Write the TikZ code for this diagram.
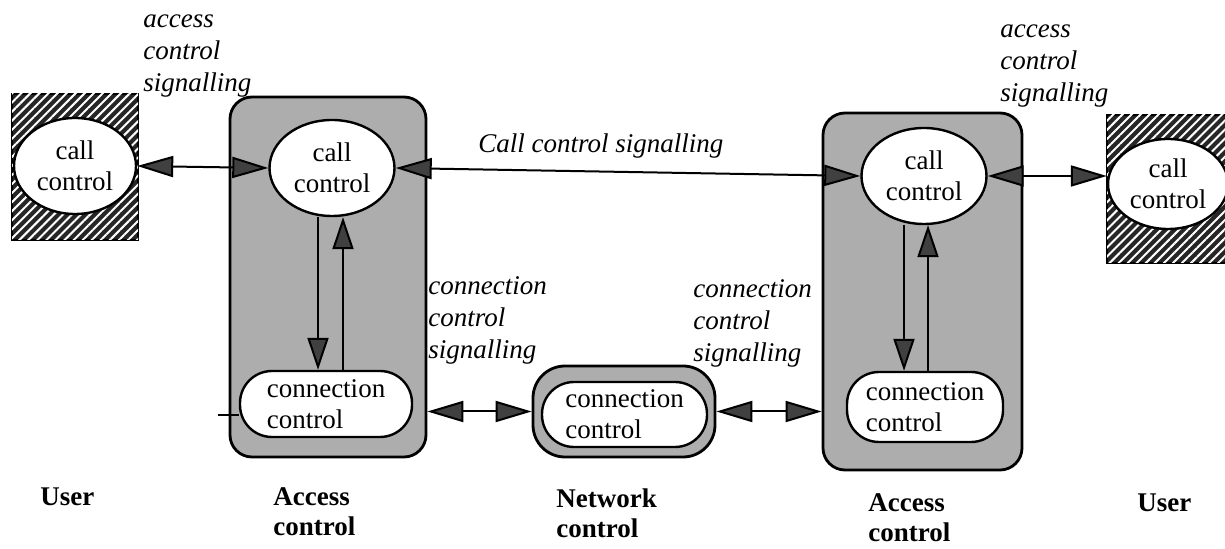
\documentclass[tikz,border=0pt]{standalone}
\usepackage{fontspec}
\setmainfont{Liberation Serif}
\usetikzlibrary{arrows.meta,patterns.meta,shapes.geometric}
\begin{document}
\begin{tikzpicture}[x=0.5pt,y=-0.5pt,
  txt/.style={font=\fontsize{13.5}{15.5}\selectfont},
  lbl/.style={font=\fontsize{13.5}{16}\selectfont\itshape, align=left, anchor=base west, inner sep=0pt},
  caption/.style={font=\fontsize{13.5}{15}\selectfont\bfseries, align=left, anchor=base west, inner sep=0pt},
  accbox/.style={draw, line width=1.4pt, fill=black!32, rounded corners=11pt, inner sep=0pt},
  userbox/.style={draw, line width=1.2pt, fill=black!85,
    postaction={pattern={Lines[angle=45,distance=3.2pt,line width=1pt]}, pattern color=white},
    inner sep=0pt},
  callell/.style={ellipse, draw, line width=1.2pt, fill=white, inner sep=0pt, align=center, txt},
  connbox/.style={draw, line width=1.2pt, fill=white, rounded corners=16pt, inner sep=0pt, align=left, txt},
  sig/.style={line width=1pt,
    {Triangle[length=18pt,width=10.5pt,fill=black!75]}-{Triangle[length=18pt,width=10.5pt,fill=black!75]}},
  vsig/.style={line width=1pt, -{Triangle[length=16pt,width=10.5pt,fill=black!75]}},
]
\useasboundingbox (0,0) rectangle (1225,549);
\fill[white] (0,0) rectangle (1225,549);

% user terminal, left
\node[userbox, minimum width=63pt, minimum height=73pt] (userL) at (75,167) {};
\node[callell, minimum width=61pt, minimum height=48pt] (userLe) at (75,166) {call\\control};

% access control, left
\node[accbox, minimum width=98pt, minimum height=180pt] (accL) at (328,277) {};
\node[callell, minimum width=62.5pt, minimum height=48pt] (callL) at (332,168) {call\\control};
\node[connbox, minimum width=86pt, minimum height=33pt] (connL) at (326,404) {connection\\control};

% network control
\node[accbox, rounded corners=16pt, minimum width=91pt, minimum height=45.5pt] (netO) at (624,411.5) {};
\node[connbox, minimum width=82.5pt, minimum height=32.5pt] (netI) at (624.5,414.5) {connection\\control};

% access control, right
\node[accbox, minimum width=99.5pt, minimum height=178.5pt] (accR) at (922.5,291.5) {};
\node[callell, minimum width=62.5pt, minimum height=48pt] (callR) at (924,176) {call\\control};
\node[connbox, minimum width=78pt, minimum height=35pt] (connR) at (925,407) {connection\\control};

% user terminal, right
\node[userbox, minimum width=66pt, minimum height=74pt] (userR) at (1173,189) {};
\node[callell, minimum width=60pt, minimum height=45pt] (userRe) at (1168,184) {call\\control};

% signalling between call control entities
\draw[sig] (userLe.east) -- (callL.west);
\draw[sig] (callL.east) -- (callR.west);
\draw[sig] (callR.east) -- (callR.east -| userRe.west);

% signalling between connection control entities
\draw[sig] (accL.east |- netO.west) -- (netO.west);
\draw[sig] (netO.east) -- (netO.east -| accR.west);

% stub into the left connection control
\coordinate (stub) at (218,415);
\draw[line width=1pt] (stub) -- (stub -| connL.west);

% internal call/connection control interaction
\draw[vsig] ([xshift=-7pt]callL.south) -- ([xshift=-7pt]callL.south |- connL.north);
\draw[vsig] ([xshift=5.5pt]callL.south |- connL.north) -- ([xshift=5.5pt]callL.south);
\draw[vsig] ([xshift=-10pt]callR.south) -- ([xshift=-10pt]callR.south |- connR.north);
\draw[vsig] ([xshift=2pt]callR.south |- connR.north) -- ([xshift=2pt]callR.south);

% signalling labels (anchored at the baseline of their last line)
\node[lbl] (asL) at (143,92) {access\\control\\signalling};
\node[lbl] (asR) at (1000,102) {access\\control\\signalling};
\node[lbl] (csig) at (478,153) {Call control signalling};
\node[lbl] (ccL) at (428,359) {connection\\control\\signalling};
\node[lbl] (ccR) at (693,362) {connection\\control\\signalling};

% domain captions
\node[caption] (capUL) at (40,505) {User};
\node[caption] (capAL) at (273,535) {Access\\control};
\node[caption] (capN) at (556,538) {Network\\control};
\node[caption] (capAR) at (868,541) {Access\\control};
\node[caption] (capUR) at (1137,511) {User};
\end{tikzpicture}
\end{document}
